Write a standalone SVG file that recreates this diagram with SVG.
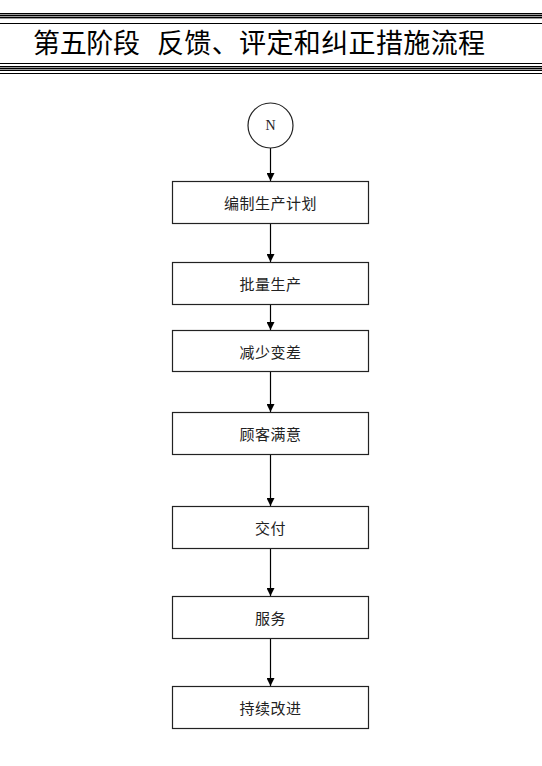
<svg xmlns="http://www.w3.org/2000/svg" width="542" height="766" viewBox="0 0 542 766">
<defs>
<style>
.rule{stroke:#000;stroke-width:1;fill:none}
.rg{stroke:#9a9a9a;stroke-width:1;fill:none}
.box{fill:#fff;stroke:#222;stroke-width:1.2}
.lbl{font-family:"Noto Sans CJK SC","Liberation Sans",sans-serif;font-size:15px;fill:#222;text-anchor:middle;dominant-baseline:central;letter-spacing:0.5px}
.title{font-family:"Noto Sans CJK SC","Liberation Serif",serif;font-size:27px;fill:#000}
.conn{stroke:#000;stroke-width:1.2;fill:none;marker-end:url(#arr)}
</style>
<marker id="arr" viewBox="0 0 10 10" refX="10" refY="5" markerWidth="8" markerHeight="8" markerUnits="userSpaceOnUse" orient="auto">
<path d="M0,0 L10,5 L0,10 Z" fill="#000"/>
</marker>
</defs>
<rect width="542" height="766" fill="#fff"/>
<g id="title">
<line class="rg" x1="0" y1="14.5" x2="542" y2="14.5"/>
<line class="rule" x1="0" y1="13.5" x2="542" y2="13.5"/>
<line class="rg" x1="0" y1="16.5" x2="542" y2="16.5"/>
<line class="rule" x1="0" y1="15.5" x2="542" y2="15.5"/>
<line class="rg" x1="0" y1="18.5" x2="542" y2="18.5"/>
<line class="rule" x1="0" y1="17.5" x2="542" y2="17.5"/>
<line class="rule" x1="0" y1="23.5" x2="542" y2="23.5"/>
<text class="title" x="33" y="53" textLength="107" lengthAdjust="spacing">第五阶段</text>
<text class="title" x="157" y="53" textLength="328" lengthAdjust="spacing">反馈、评定和纠正措施流程</text>
<line class="rule" x1="0" y1="63.5" x2="542" y2="63.5"/>
<line class="rule" x1="0" y1="66.5" x2="542" y2="66.5"/>
<line class="rg" x1="0" y1="67.5" x2="542" y2="67.5"/>
<line class="rule" x1="0" y1="68.5" x2="542" y2="68.5"/>
<line class="rg" x1="0" y1="69.5" x2="542" y2="69.5"/>
<line class="rule" x1="0" y1="70.5" x2="542" y2="70.5"/>
<line class="rule" x1="0" y1="73.5" x2="542" y2="73.5"/>
</g>
<g id="connectors">
<line class="conn" x1="270.5" y1="148" x2="270.5" y2="181"/>
<line class="conn" x1="270.5" y1="223" x2="270.5" y2="262"/>
<line class="conn" x1="270.5" y1="304" x2="270.5" y2="330"/>
<line class="conn" x1="270.5" y1="371" x2="270.5" y2="412"/>
<line class="conn" x1="270.5" y1="454" x2="270.5" y2="506"/>
<line class="conn" x1="270.5" y1="548" x2="270.5" y2="596"/>
<line class="conn" x1="270.5" y1="638" x2="270.5" y2="686"/>
</g>
<g id="start">
<circle cx="270.5" cy="125.5" r="22.5" fill="#fff" stroke="#222" stroke-width="1.2"/>
<text x="270.5" y="125.5" font-family="Liberation Serif, serif" font-size="14" fill="#222" text-anchor="middle" dominant-baseline="central">N</text>
</g>
<g id="n1"><rect class="box" x="172.5" y="181.5" width="196" height="42"/><text class="lbl" x="270.5" y="202.5">编制生产计划</text></g>
<g id="n2"><rect class="box" x="172.5" y="262.5" width="196" height="42"/><text class="lbl" x="270.5" y="283.5">批量生产</text></g>
<g id="n3"><rect class="box" x="172.5" y="330.5" width="196" height="41"/><text class="lbl" x="270.5" y="351">减少变差</text></g>
<g id="n4"><rect class="box" x="172.5" y="412.5" width="196" height="42"/><text class="lbl" x="270.5" y="433.5">顾客满意</text></g>
<g id="n5"><rect class="box" x="172.5" y="506.5" width="196" height="42"/><text class="lbl" x="270.5" y="527.5">交付</text></g>
<g id="n6"><rect class="box" x="172.5" y="596.5" width="196" height="42"/><text class="lbl" x="270.5" y="617.5">服务</text></g>
<g id="n7"><rect class="box" x="172.5" y="686.5" width="196" height="42"/><text class="lbl" x="270.5" y="707.5">持续改进</text></g>
</svg>
